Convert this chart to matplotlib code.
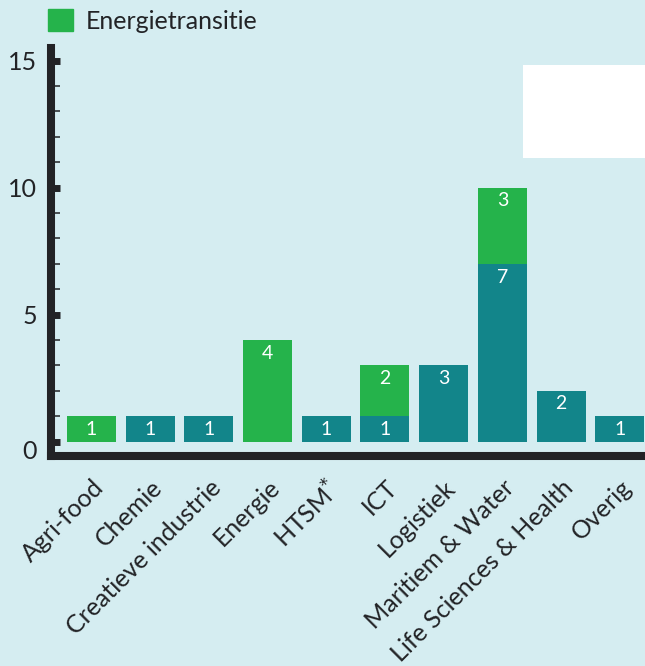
import numpy as np
import matplotlib
matplotlib.use('Agg')
import matplotlib.pyplot as plt
from matplotlib.patches import Patch, Rectangle
from matplotlib.ticker import FixedLocator
from matplotlib.transforms import ScaledTranslation

# data
sectors = ['Agri-food', 'Chemie', 'Creatieve industrie', 'Energie', 'HTSM$^{*}$',
           'ICT', 'Logistiek', 'Maritiem & Water', 'Life Sciences & Health', 'Overig']
base_vals = [0, 1, 1, 0, 1, 1, 3, 7, 2, 1]          # teal series
energie_vals = [1, 0, 0, 4, 0, 2, 0, 3, 0, 0]       # Energietransitie
yticks = [0, 5, 10, 15]
minor_ticks = [1, 2, 3, 4, 6, 7, 8, 9, 11, 12, 13, 14]

bg = '#d5edf1'
teal = '#12858a'
green = '#25b34b'
dark = '#222326'

plt.rcParams['font.family'] = ['Lato', 'DejaVu Sans']

fig = plt.figure(figsize=(6.45, 6.66), dpi=100, facecolor=bg)
ax = fig.add_axes([51 / 645, 210 / 666, 594 / 645, 408 / 666])
ax.set_facecolor(bg)

x = np.arange(len(sectors))
base = np.array(base_vals)
top = np.array(energie_vals)
w = 0.835
ax.bar(x, base, width=w, color=teal, zorder=2)
ax.bar(x, top, width=w, bottom=base, color=green, zorder=2)

# value labels inside the bars
off = 0.52
for i in x:
    if base[i] > 0:
        ax.text(i, base[i] - off, str(base[i]), color='white', ha='center', va='center', fontsize=14)
    if top[i] > 0:
        ax.text(i, base[i] + top[i] - off, str(top[i]), color='white', ha='center', va='center', fontsize=14)

ax.set_xlim(-0.69, 9.43)
ax.set_ylim(-0.57, 15.5)

for s in ['top', 'right']:
    ax.spines[s].set_visible(False)
for s in ['left', 'bottom']:
    ax.spines[s].set_linewidth(5.8)
    ax.spines[s].set_color(dark)
    ax.spines[s].set_capstyle('projecting')

ax.yaxis.set_major_locator(FixedLocator(yticks))
ax.yaxis.set_minor_locator(FixedLocator(minor_ticks))
ax.tick_params(axis='y', which='major', direction='in', length=6.5, width=5, color=dark,
               labelsize=18, labelcolor=dark, pad=10)
ax.tick_params(axis='y', which='minor', direction='in', length=6.5, width=1.1, color=dark)

# the 0 label sits a little lower in the reference
zero = ax.yaxis.get_major_ticks()[0].label1
zero.set_transform(zero.get_transform() + ScaledTranslation(0, -0.08, fig.dpi_scale_trans))

ax.set_xticks(x)
ax.set_xticklabels(sectors, rotation=45, ha='right', va='top', rotation_mode='anchor')
ax.tick_params(axis='x', length=0, labelsize=18, labelcolor=dark, pad=14)

ax.legend(handles=[Patch(color=green, label='Energietransitie')], loc='upper left',
          bbox_to_anchor=(48 / 645, 1 - 9 / 666), bbox_transform=fig.transFigure,
          frameon=False, fontsize=18, handlelength=1.0, handleheight=1.0,
          handletextpad=0.5, borderpad=0, borderaxespad=0, labelcolor=dark)

# white block in the top right corner of the reference
fig.add_artist(Rectangle((523 / 645, 1 - 158 / 666), 122 / 645, 93 / 666,
                         transform=fig.transFigure, facecolor='white', edgecolor='none'))

fig.savefig('out.png', dpi=100, facecolor=bg)
